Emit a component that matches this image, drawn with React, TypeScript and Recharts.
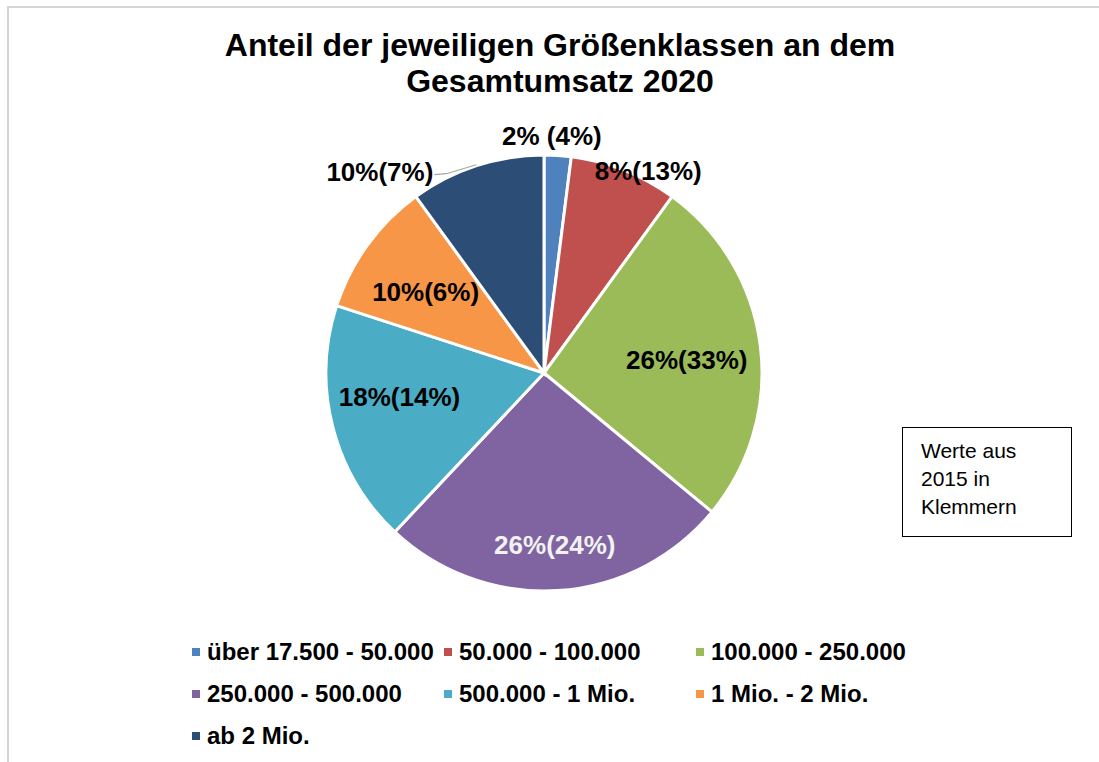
import React from "react";
import { PieChart, Pie, Cell, Legend } from "recharts";

const categories = [
  "über 17.500 - 50.000",
  "50.000 - 100.000",
  "100.000 - 250.000",
  "250.000 - 500.000",
  "500.000 - 1 Mio.",
  "1 Mio. - 2 Mio.",
  "ab 2 Mio.",
];
const share2020 = [2, 8, 26, 26, 18, 10, 10];
const share2015 = [4, 13, 33, 24, 14, 6, 7];
const labelSep = [" ", "", "", "", "", "", ""];

const colors = ["#4f81bd", "#c0504d", "#9bbb59", "#8064a2", "#4bacc6", "#f79646", "#2c4d75"];
const labelColors = ["#000", "#000", "#000", "#f2f2f2", "#000", "#000", "#000"];
// label placement: radius factor and small nudges
const labelLayout = [
  { r: 1.09, dx: -7, dy: 0 },
  { r: 1.0, dx: 24, dy: 1 },
  { r: 0.66, dx: 0, dy: 5 },
  { r: 0.79, dx: 0, dy: 0 },
  { r: 0.67, dx: -3, dy: -12 },
  { r: 0.66, dx: -2, dy: 4 },
  { r: 1.0, dx: 0, dy: 0 },
];

const data = categories.map((name, i) => ({
  name,
  value: share2020[i],
  label: `${share2020[i]}%${labelSep[i]}(${share2015[i]}%)`,
}));

const FONT = "'Liberation Sans', Arial, sans-serif";
const RADIAN = Math.PI / 180;
const LABEL_SIZE = 26;

function SliceLabel(props: any) {
  const { cx, cy, midAngle, outerRadius, index } = props;
  const lay = labelLayout[index];
  const cos = Math.cos(-midAngle * RADIAN);
  const sin = Math.sin(-midAngle * RADIAN);
  if (index === 6) {
    const sx = cx + (outerRadius + 1) * cos;
    const sy = cy + (outerRadius + 1) * sin;
    const ex = sx - 30;
    const ey = sy + 9;
    const tx = ex - 12;
    return (
      <g>
        <polyline
          points={`${sx},${sy} ${ex},${ey} ${tx},${ey + 1}`}
          fill="none"
          stroke="#a6a6a6"
          strokeWidth={1.2}
        />
        <text
          x={tx - 1}
          y={ey - 2}
          textAnchor="end"
          dominantBaseline="central"
          fontFamily={FONT}
          fontWeight="bold"
          fontSize={LABEL_SIZE}
          fill={labelColors[index]}
        >
          {data[index].label}
        </text>
      </g>
    );
  }
  const r = outerRadius * lay.r;
  const x = cx + r * cos + lay.dx;
  const y = cy + r * sin + lay.dy;
  return (
    <text
      x={x}
      y={y}
      textAnchor="middle"
      dominantBaseline="central"
      fontFamily={FONT}
      fontWeight="bold"
      fontSize={LABEL_SIZE}
      fill={labelColors[index]}
    >
      {data[index].label}
    </text>
  );
}

function LegendContent() {
  return (
    <div
      style={{
        display: "grid",
        gridTemplateColumns: "252px 252px 240px",
        rowGap: 17,
        fontFamily: FONT,
        fontWeight: "bold",
        fontSize: 24,
        color: "#000",
      }}
    >
      {categories.map((c, i) => (
        <div key={c} style={{ display: "flex", alignItems: "center", height: 25, whiteSpace: "nowrap" }}>
          <span
            style={{
              display: "inline-block",
              width: 8,
              height: 8,
              background: colors[i],
              marginRight: 7,
            }}
          />
          {c}
        </div>
      ))}
    </div>
  );
}

export default function App() {
  return (
    <div
      style={{
        position: "absolute",
        left: 0,
        top: 0,
        width: 1099,
        height: 762,
        overflow: "hidden",
        background: "#fff",
        fontFamily: FONT,
      }}
    >
      <div
        style={{
          position: "absolute",
          left: 7,
          top: 6,
          width: 1200,
          height: 900,
          borderLeft: "2px solid #d4d4d4",
          borderTop: "2px solid #d4d4d4",
        }}
      />
      <div
        style={{
          position: "absolute",
          left: 0,
          width: 1120,
          top: 27,
          textAlign: "center",
          fontWeight: "bold",
          fontSize: 32,
          lineHeight: "36px",
          color: "#000",
        }}
      >
        Anteil der jeweiligen Größenklassen an dem
        <br />
        Gesamtumsatz 2020
      </div>
      <div style={{ position: "absolute", left: 0, top: 0 }}>
        <PieChart width={1099} height={762} margin={{ top: 0, right: 0, bottom: 0, left: 0 }}>
          <Pie
            data={data}
            dataKey="value"
            nameKey="name"
            cx={544}
            cy={373}
            outerRadius={218}
            startAngle={90}
            endAngle={-270}
            stroke="#fff"
            strokeWidth={3}
            label={SliceLabel}
            labelLine={false}
            isAnimationActive={false}
          >
            {data.map((d, i) => (
              <Cell key={d.name} fill={colors[i]} />
            ))}
          </Pie>
          <Legend
            content={<LegendContent />}
            wrapperStyle={{ position: "absolute", left: 192, top: 639, width: 780 }}
          />
        </PieChart>
      </div>
      <div
        style={{
          position: "absolute",
          left: 902,
          top: 427,
          width: 150,
          height: 94,
          border: "1px solid #000",
          padding: "9px 0 5px 18px",
          fontSize: 21,
          lineHeight: "28px",
          color: "#000",
        }}
      >
        Werte aus
        <br />
        2015 in
        <br />
        Klemmern
      </div>
    </div>
  );
}
